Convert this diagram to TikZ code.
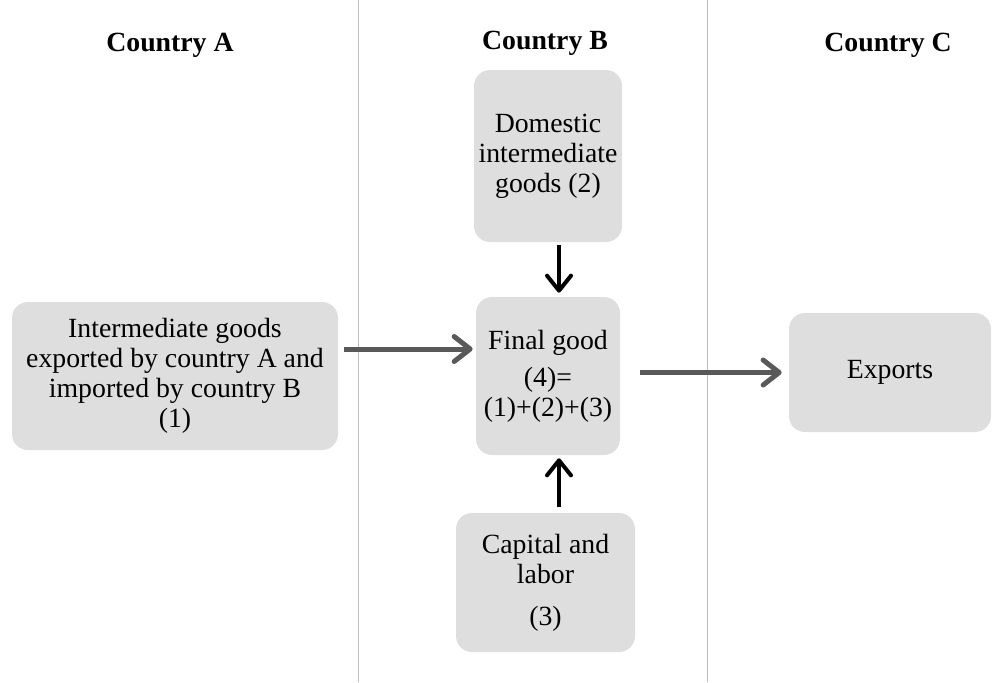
\documentclass[tikz,border=0pt]{standalone}
\usepackage{fontspec}
\setmainfont{Liberation Serif}
\usepackage{xcolor}
\usetikzlibrary{arrows.meta}

\definecolor{boxgray}{HTML}{DEDEDE}
\definecolor{arrowgray}{HTML}{595959}
\definecolor{linegray}{HTML}{BDBDBD}

\tikzset{
    goodsbox/.style={
        fill=boxgray,
        rounded corners=0.32cm,
        align=center,
        inner sep=0pt,
        font=\fontsize{15.8}{17}\selectfont
    },
    header/.style={font=\fontsize{15.8}{17}\selectfont\bfseries},
    flowgray/.style={
        draw=arrowgray,
        line width=0.1cm,
        -{Straight Barb[length=0.32cm,width=0.5cm,round]}
    },
    flowblack/.style={
        draw=black,
        line width=0.08cm,
        -{Straight Barb[length=0.3cm,width=0.48cm,round]}
    }
}

\begin{document}
\begin{tikzpicture}

\useasboundingbox (0,0) rectangle (19.84,-13.64);

\draw[linegray, line width=0.45pt] (7.16,0) -- (7.16,-13.64);
\draw[linegray, line width=0.45pt] (14.14,0) -- (14.14,-13.64);

\node[header] (hA) at (3.4,-0.9) {Country A};
\node[header] (hB) at (10.9,-0.86) {Country B};
\node[header] (hC) at (17.76,-0.9) {Country C};

\node[
    goodsbox,
    minimum width=2.96cm,
    minimum height=3.44cm
] (dom) at (10.96,-3.12)
{Domestic\\intermediate\\goods (2)};

\node[
    goodsbox,
    minimum width=2.88cm,
    minimum height=3.16cm
] (final) at (10.96,-7.52)
{Final good\\[4pt] (4)=\\(1)+(2)+(3)};

\node[
    goodsbox,
    minimum width=3.58cm,
    minimum height=2.78cm
] (cap) at (10.91,-11.65)
{Capital and\\labor\\[7pt] (3)};

\node[
    goodsbox,
    minimum width=6.52cm,
    minimum height=2.96cm
] (inter) at (3.5,-7.52)
{Intermediate goods\\exported by country A and\\imported by country B\\(1)};

\node[
    goodsbox,
    minimum width=4.04cm,
    minimum height=2.38cm
] (exports) at (17.8,-7.45)
{Exports};

\draw[flowgray] ([xshift=0.12cm,yshift=0.54cm]inter.east) -- ([xshift=-0.06cm,yshift=0.54cm]final.west);
\draw[flowgray] ([xshift=0.4cm]final.east |- exports) -- ([xshift=-0.14cm]exports.west);
\draw[flowblack] ([xshift=0.22cm,yshift=-0.06cm]dom.south) -- ([xshift=0.22cm,yshift=0.08cm]final.north);
\draw[flowblack] ([xshift=0.27cm,yshift=0.12cm]cap.north) -- ([xshift=0.22cm,yshift=-0.06cm]final.south);

\end{tikzpicture}
\end{document}
